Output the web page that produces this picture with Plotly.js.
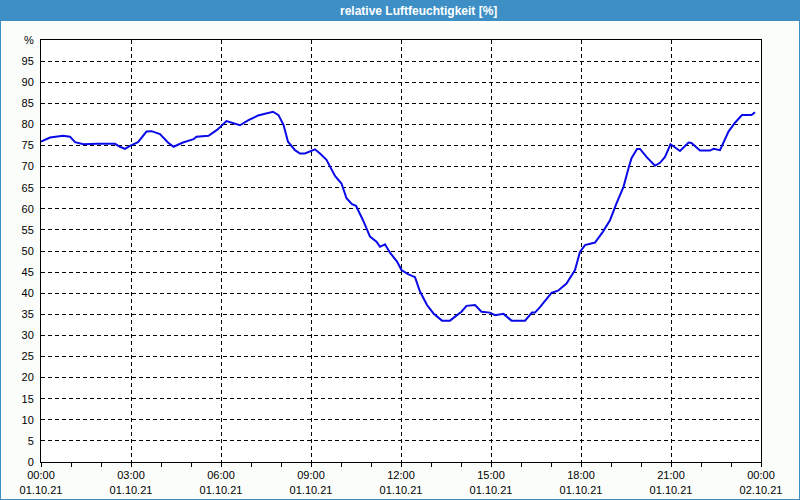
<!DOCTYPE html>
<html>
<head>
<meta charset="utf-8">
<script src="https://cdn.plot.ly/plotly-3.0.1.min.js"></script>
<style>html,body{margin:0;padding:0;background:#fbfdfb;}#chart{width:800px;height:500px;}</style>
</head>
<body>
<div id="chart"></div>
<script>
const chartTitle = "relative Luftfeuchtigkeit [%]";
const day = "2021-10-01";
const times = ["00:00","00:18","00:44","00:58","01:08","01:25","01:52","02:28","02:38","02:48","02:58",
  "03:14","03:31","03:41","03:58","04:14","04:25","04:44","05:05","05:11","05:35","05:52",
  "06:11","06:38","06:55","07:14","07:44","07:55","08:05","08:14","08:28","08:38","08:48","08:58",
  "09:08","09:18","09:31","09:48","10:01","10:11","10:22","10:30","10:44","10:58","11:11","11:18","11:28","11:38","11:52",
  "12:01","12:14","12:28","12:38","12:52","13:05","13:22","13:38","13:52","14:01","14:11","14:28","14:41","14:58",
  "15:08","15:25","15:41","16:08","16:22","16:28","16:38","16:52","17:01","17:14","17:31","17:48","17:58",
  "18:08","18:28","18:44","18:58","19:11","19:25","19:35","19:41","19:52","19:58","20:11","20:28","20:38","20:48","20:59",
  "21:18","21:35","21:41","21:58","22:18","22:25","22:38","22:55","23:08","23:22","23:41","23:48"];
const humidity = [75.9,76.9,77.3,77.1,75.8,75.3,75.4,75.4,74.7,74.2,74.9,
  75.8,78.3,78.4,77.7,75.7,74.7,75.7,76.5,77.1,77.3,78.7,
  80.8,79.8,81.0,82.1,83.0,82.2,79.9,75.9,73.9,73.1,73.1,73.7,
  74.1,73.1,71.6,67.8,66.0,62.5,61.1,60.7,57.3,53.4,52.2,51.0,51.6,49.6,47.5,
  45.5,44.5,43.8,40.4,37.2,35.2,33.5,33.5,34.8,35.6,37.0,37.2,35.6,35.4,
  34.8,35.1,33.5,33.5,35.4,35.4,36.7,38.8,40.1,40.6,42.3,45.5,49.8,
  51.4,52.0,54.6,57.3,61.3,65.2,69.6,72.0,74.2,74.2,72.3,70.2,70.9,72.3,75.3,
  73.7,75.7,75.6,73.8,73.8,74.2,73.9,78.3,80.4,82.2,82.2,82.9];
const xTickVals = ["2021-10-01 00:00","2021-10-01 03:00","2021-10-01 06:00","2021-10-01 09:00","2021-10-01 12:00",
  "2021-10-01 15:00","2021-10-01 18:00","2021-10-01 21:00","2021-10-02 00:00"];
const xTickText = ["00:00<br>01.10.21","03:00<br>01.10.21","06:00<br>01.10.21","09:00<br>01.10.21","12:00<br>01.10.21",
  "15:00<br>01.10.21","18:00<br>01.10.21","21:00<br>01.10.21","00:00<br>02.10.21"];
const yTickVals = [0,5,10,15,20,25,30,35,40,45,50,55,60,65,70,75,80,85,90,95,100];
const yTickText = ["0","5","10","15","20","25","30","35","40","45","50","55","60","65","70","75","80","85","90","95","%"];

const x = times.map(t => day + " " + t);

const W = 720, H = 422, L = 41, T = 40;
const px = v => (v - L) / W;
const py = v => (T + H - v) / H;

const trace = {
  x: x, y: humidity, type: "scatter", mode: "lines",
  line: {color: "#0a0ae8", width: 2},
  hoverinfo: "skip"
};

const layout = {
  width: 800, height: 500,
  margin: {l: L, r: 800 - L - W, t: T, b: 500 - T - H, pad: 0},
  paper_bgcolor: "#fbfdfb",
  plot_bgcolor: "#ffffff",
  showlegend: false,
  font: {family: "Liberation Sans, Arial, sans-serif", size: 11, color: "#000"},
  xaxis: {
    type: "date",
    range: ["2021-10-01 00:00", "2021-10-02 00:00"],
    tickmode: "array", tickvals: xTickVals, ticktext: xTickText,
    ticks: "outside", ticklen: 4, tickcolor: "#000", tickwidth: 1, ticklabelstandoff: -1,
    minor: {dtick: 3600000, ticks: "outside", ticklen: 4, tickcolor: "#000", showgrid: false},
    showgrid: true, gridcolor: "#000", gridwidth: 1, griddash: "4px,3px",
    showline: true, linecolor: "#000", linewidth: 1, mirror: true,
    zeroline: false, fixedrange: true,
    tickfont: {size: 11, color: "#000"}
  },
  yaxis: {
    range: [0, 100],
    tickmode: "array", tickvals: yTickVals, ticktext: yTickText,
    ticks: "", ticklabelstandoff: 4,
    showgrid: true, gridcolor: "#000", gridwidth: 1, griddash: "4px,3px",
    showline: true, linecolor: "#000", linewidth: 1, mirror: true,
    zeroline: false, fixedrange: true,
    tickfont: {size: 11, color: "#000"}
  },
  shapes: [
    {type: "rect", xref: "paper", yref: "paper", x0: px(0), x1: px(800), y0: py(21), y1: py(0),
     fillcolor: "#3d8fc6", line: {width: 0}},
    {type: "rect", xref: "paper", yref: "paper", x0: px(0), x1: px(800), y0: py(500), y1: py(0),
     fillcolor: "rgba(0,0,0,0)", line: {color: "#3d8fc6", width: 2}}
  ],
  annotations: [
    {text: "<b>" + chartTitle + "</b>", xref: "paper", yref: "paper",
     x: px(418), y: py(10.5), xanchor: "center", yanchor: "middle", showarrow: false,
     font: {family: "Liberation Sans, Arial, sans-serif", size: 12, color: "#ffffff"}}
  ]
};

Plotly.newPlot("chart", [trace], layout, {displayModeBar: false, staticPlot: true});
</script>
</body>
</html>
